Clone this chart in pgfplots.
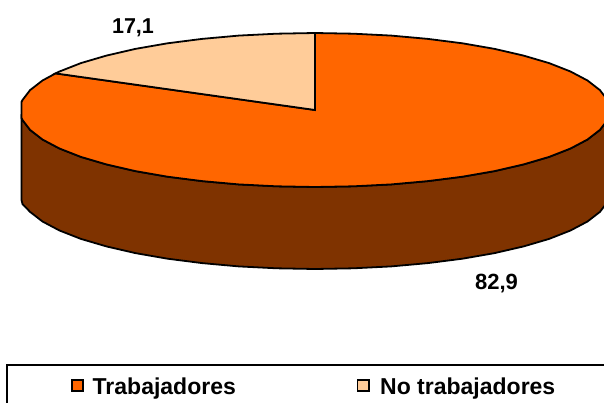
\documentclass[border=0pt]{standalone}
\usepackage{fontspec}
\setmainfont{Liberation Sans}
\usepackage{pgfplots}
\pgfplotsset{compat=1.18}
\definecolor{trab}{HTML}{FF6600}
\definecolor{notrab}{HTML}{FFCC99}
\definecolor{lado}{HTML}{7F3300}
\begin{document}
\begin{tikzpicture}
\path[use as bounding box] (0,0) rectangle (604bp,403bp);
\begin{axis}[
    at={(0,0)}, anchor=south west,
    scale only axis, width=604bp, height=403bp,
    xmin=0, xmax=604, ymin=0, ymax=403, y dir=reverse,
    hide axis, clip=true,
]
% side of the disc
\addplot[draw=black, line width=1.8pt, fill=lado] coordinates {
(21.5,118)(22.5,120)(30.1,129.9)(42.5,139.5)(59.5,148.5)(80.9,156.9)(106.4,164.4)(135.4,171.1)(167.5,176.7)(202.1,181.1)(238.7,184.4)(276.5,186.3)(315,187)
(353.5,186.3)(391.3,184.4)(427.9,181.1)(462.5,176.7)(494.6,171.1)(523.6,164.4)(549.1,156.9)(570.5,148.5)(587.5,139.5)(599.9,129.9)(607.5,120)(610,110)
(610,192)(607.5,202)(599.9,211.9)(587.5,221.5)(570.5,230.5)(549.1,238.9)(523.6,246.4)(494.6,253.1)(462.5,258.7)(427.9,263.1)(391.3,266.4)(353.5,268.3)(315,269)
(276.5,268.3)(238.7,266.4)(202.1,263.1)(167.5,258.7)(135.4,253.1)(106.4,246.4)(80.9,238.9)(59.5,230.5)(42.5,221.5)(30.1,211.9)(22.5,204)(21.5,200)
} -- cycle;
% Trabajadores 82,9
\addplot[draw=black, line width=1.8pt, fill=trab] coordinates {
(315,110)(315,33)(353.5,33.7)(391.3,35.6)(427.9,38.9)(462.5,43.3)(494.6,48.9)(523.6,55.6)(549.1,63.1)(570.5,71.5)(587.5,80.5)(599.9,90.1)(607.5,100)(610,110)
(607.5,120)(599.9,129.9)(587.5,139.5)(570.5,148.5)(549.1,156.9)(523.6,164.4)(494.6,171.1)(462.5,176.7)(427.9,181.1)(391.3,184.4)(353.5,186.3)(315,187)
(276.5,186.3)(238.7,184.4)(202.1,181.1)(167.5,176.7)(135.4,171.1)(106.4,164.4)(80.9,156.9)(59.5,148.5)(42.5,139.5)(30.1,129.9)(22.5,120)(21.5,118)(21.5,102)(22.5,100)(30.1,90.1)(42.5,80.5)(55.6,73.4)
} -- cycle;
% No trabajadores 17,1
\addplot[draw=black, line width=1.8pt, fill=notrab] coordinates {
(315,110)(55.6,73.4)(59.5,71.5)(80.9,63.1)(106.4,55.6)(135.4,48.9)(167.5,43.3)(202.1,38.9)(238.7,35.6)(276.5,33.7)(315,33)
} -- cycle;
% legend frame, cut by the page edge
\addplot[draw=black, line width=1.5pt] coordinates {(7,410)(7,365)(610,365)};
\addplot[draw=black, line width=1.6pt, fill=trab] coordinates {(72,380)(83,380)(83,391)(72,391)} -- cycle;
\addplot[draw=black, line width=1.6pt, fill=notrab] coordinates {(357.5,380)(369,380)(369,391)(357.5,391)} -- cycle;
\node[anchor=base, inner sep=0pt, font=\fontsize{21.5bp}{22bp}\selectfont\bfseries] at (axis cs:133,33) {17,1};
\node[anchor=base, inner sep=0pt, font=\fontsize{22bp}{22bp}\selectfont\bfseries] at (axis cs:496.5,289) {82,9};
\node[anchor=base west, inner sep=0pt, font=\fontsize{23bp}{23bp}\selectfont\bfseries] at (axis cs:92.5,394) {Trabajadores};
\node[anchor=base west, inner sep=0pt, font=\fontsize{23bp}{23bp}\selectfont\bfseries] at (axis cs:380,394) {No trabajadores};
\end{axis}
\end{tikzpicture}
\end{document}
